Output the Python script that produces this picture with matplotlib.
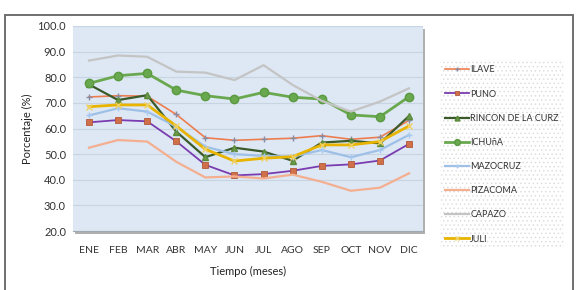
import matplotlib
matplotlib.use("Agg")
import matplotlib.pyplot as plt
from matplotlib.patches import Rectangle

months = ["ENE", "FEB", "MAR", "ABR", "MAY", "JUN", "JUL", "AGO", "SEP", "OCT", "NOV", "DIC"]
ilave = [72.3, 72.8, 72.6, 65.5, 56.4, 55.4, 55.8, 56.2, 57.2, 55.8, 56.6, 63.2]
puno = [62.4, 63.3, 62.8, 55.0, 45.8, 41.7, 42.2, 43.5, 45.4, 46.0, 47.5, 54.0]
rincon = [77.2, 71.1, 73.0, 58.8, 48.8, 52.5, 51.0, 47.4, 54.5, 55.2, 54.2, 64.9]
ichuna = [77.6, 80.6, 81.5, 75.0, 72.8, 71.5, 74.1, 72.2, 71.5, 65.3, 64.6, 72.4]
mazocruz = [65.1, 67.9, 66.6, 60.7, 52.9, 50.0, 49.3, 49.0, 51.6, 48.8, 51.6, 57.5]
pizacoma = [52.5, 55.5, 54.9, 47.0, 40.9, 41.3, 40.5, 42.0, 39.2, 35.7, 36.9, 42.5]
capazo = [86.5, 88.5, 88.0, 82.2, 81.8, 78.9, 84.7, 77.0, 70.8, 66.6, 70.5, 75.7]
juli = [68.5, 69.2, 69.2, 61.0, 51.9, 47.3, 48.4, 49.0, 53.6, 53.6, 54.9, 61.0]
yticks = [20, 30, 40, 50, 60, 70, 80, 90, 100]

plt.rcParams['font.family'] = ['Lato', 'DejaVu Sans']
plt.rcParams['hatch.color'] = '#c8c8c8'
plt.rcParams['hatch.linewidth'] = 0.6

fig = plt.figure(figsize=(5.78, 2.90), dpi=100)
# outer border
fig.patches.append(Rectangle((5/578, -5/290), 568/578, 280/290, transform=fig.transFigure,
                             fill=False, edgecolor='#6f6f6f', linewidth=1.4))
ax = fig.add_axes([73/578, 1 - 231/290, 350/578, 205/290])
# shadow
fig.patches.append(Rectangle((75/578, 1 - 234/290), 350/578, 205/290, transform=fig.transFigure,
                             facecolor='#b0b0b0', edgecolor='none', zorder=-1))
ax.set_facecolor('#dde8f4')
x = list(range(len(months)))

series = [
    ("ILAVE", ilave, dict(color='#ed7d4f', lw=1.2, marker='+', ms=4, mec='#8a8aa0', mew=1.0)),
    ("PUNO", puno, dict(color='#7a3cb0', lw=1.3, marker='s', ms=4.5, mfc='#d0704a', mec='#b05a3a', mew=0.6)),
    ("RINCON DE LA CURZ", rincon, dict(color='#3a5a2a', lw=1.6, marker='^', ms=5, mfc='#6a9a4a', mec='#5a8a3a')),
    ("ICHUñA", ichuna, dict(color='#6aa84f', lw=2.0, marker='o', ms=6, mfc='#6aa84f', mec='#5a9a40')),
    ("MAZOCRUZ", mazocruz, dict(color='#9ec0e6', lw=1.6, marker='+', ms=5, mec='#a8c8f0', mew=1.0)),
    ("PIZACOMA", pizacoma, dict(color='#f4ae90', lw=1.6)),
    ("CAPAZO", capazo, dict(color='#c4c4c4', lw=1.6)),
    ("JULI", juli, dict(color='#e8b400', lw=2.0, marker='x', ms=5, mec='#f0d060', mew=1.0)),
]
for name, vals, st in series:
    ax.plot(x, vals, label=name, **st)

ax.set_ylim(20, 100)
ax.set_xlim(-0.55, 11.48)
ax.set_yticks(yticks)
ax.set_yticklabels([f"{v:.1f}" for v in yticks])
ax.set_xticks(x)
ax.set_xticklabels(months)
ax.grid(axis='y', color='#c8d4e2', linewidth=0.8)
ax.set_axisbelow(True)
ax.tick_params(axis='y', length=0, labelsize=8, colors='#333333', pad=5)
ax.tick_params(axis='x', length=0, labelsize=7.5, colors='#333333', pad=11)
for s in ax.spines.values():
    s.set_visible(False)
ax.spines['bottom'].set_visible(True)
ax.spines['bottom'].set_color('#a0a8b0')
ax.set_ylabel("Porcentaje (%)", fontsize=8, color='#222222', labelpad=3)
ax.set_xlabel("Tiempo (meses)", fontsize=8, color='#222222', labelpad=8)

leg = fig.legend(loc='upper left', bbox_to_anchor=(440/578, 1 - 60/290), fontsize=6.5,
                 frameon=True, fancybox=False, handlelength=2.6, handletextpad=0.15,
                 labelspacing=1.68, borderpad=0.6, borderaxespad=0, markerscale=0.7)
fr = leg.get_frame()
fr.set_edgecolor('#d8d8d8')
fr.set_hatch('....')
fr.set_linewidth(0.0)
fr.set_facecolor('white')
for t in leg.get_texts():
    t.set_color('#333333')

fig.savefig("out.png", dpi=100)
